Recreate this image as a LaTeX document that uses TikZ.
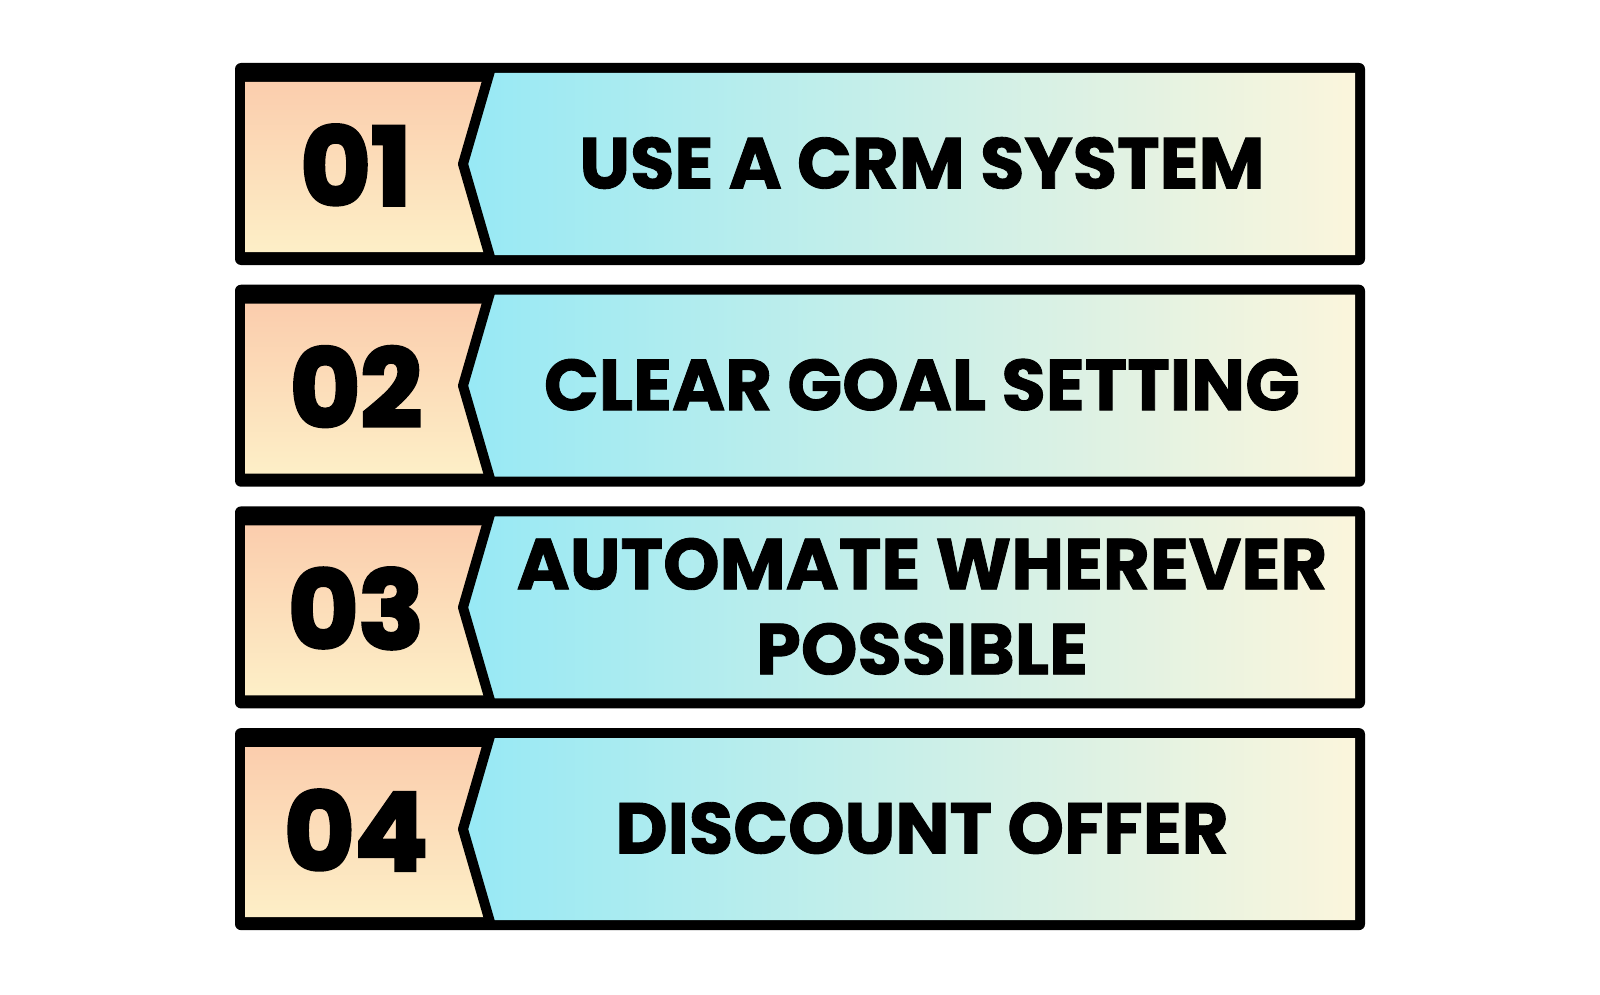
\documentclass[tikz,border=0pt]{standalone}
\usepackage{fontspec}
\setmainfont{Poppins}[BoldFeatures={FakeBold=1.2}]
\newfontfamily\numfont{Poppins}[BoldFeatures={FakeBold=3.2}]
\definecolor{peachtop}{HTML}{FBCDAD}
\definecolor{peachbot}{HTML}{FDEFC7}
\definecolor{cyanleft}{HTML}{97E9F5}
\definecolor{creamright}{HTML}{FBF5DC}
\tikzset{
  frame/.style={fill=black, rounded corners=6pt},
  numpanel/.style={top color=peachtop, bottom color=peachbot},
  textpanel/.style={left color=cyanleft, right color=creamright},
  chevron/.style={draw=black, line width=10pt, line join=round, line cap=round},
  numtext/.style={font=\numfont\bfseries\fontsize{108}{108}\selectfont, inner sep=0pt},
  labeltext/.style={font=\bfseries\fontsize{72}{85}\selectfont, align=center, inner sep=0pt},
}
\begin{document}
\begin{tikzpicture}[x=1pt, y=-1pt]
\useasboundingbox (0,0) rectangle (1600,995);
\fill[white] (0,0) rectangle (1600,995);
\foreach \i/\num/\lab in {0/01/{USE A CRM SYSTEM}, 1/02/{CLEAR GOAL SETTING}, 2/03/{AUTOMATE WHEREVER\\POSSIBLE}, 3/04/{DISCOUNT OFFER}}{
  \pgfmathsetmacro{\t}{63+221.7*\i}
  \fill[frame] (235,\t) rectangle (1365,\t+202);
  \shade[textpanel] (490,\t+10) -- (1355,\t+10) -- (1355,\t+192) -- (490,\t+192) -- (463,\t+101) -- cycle;
  \shade[numpanel] (245,\t+19) -- (487,\t+19) -- (463,\t+101) -- (487,\t+189) -- (245,\t+189) -- cycle;
  \draw[chevron] (490,\t+8) -- (463,\t+101) -- (490,\t+194);
  \node[numtext] (num\i) at (356,\t+102) {\num};
  \node[labeltext] (lab\i) at (922,\t+100) {\lab};
}
\end{tikzpicture}
\end{document}
